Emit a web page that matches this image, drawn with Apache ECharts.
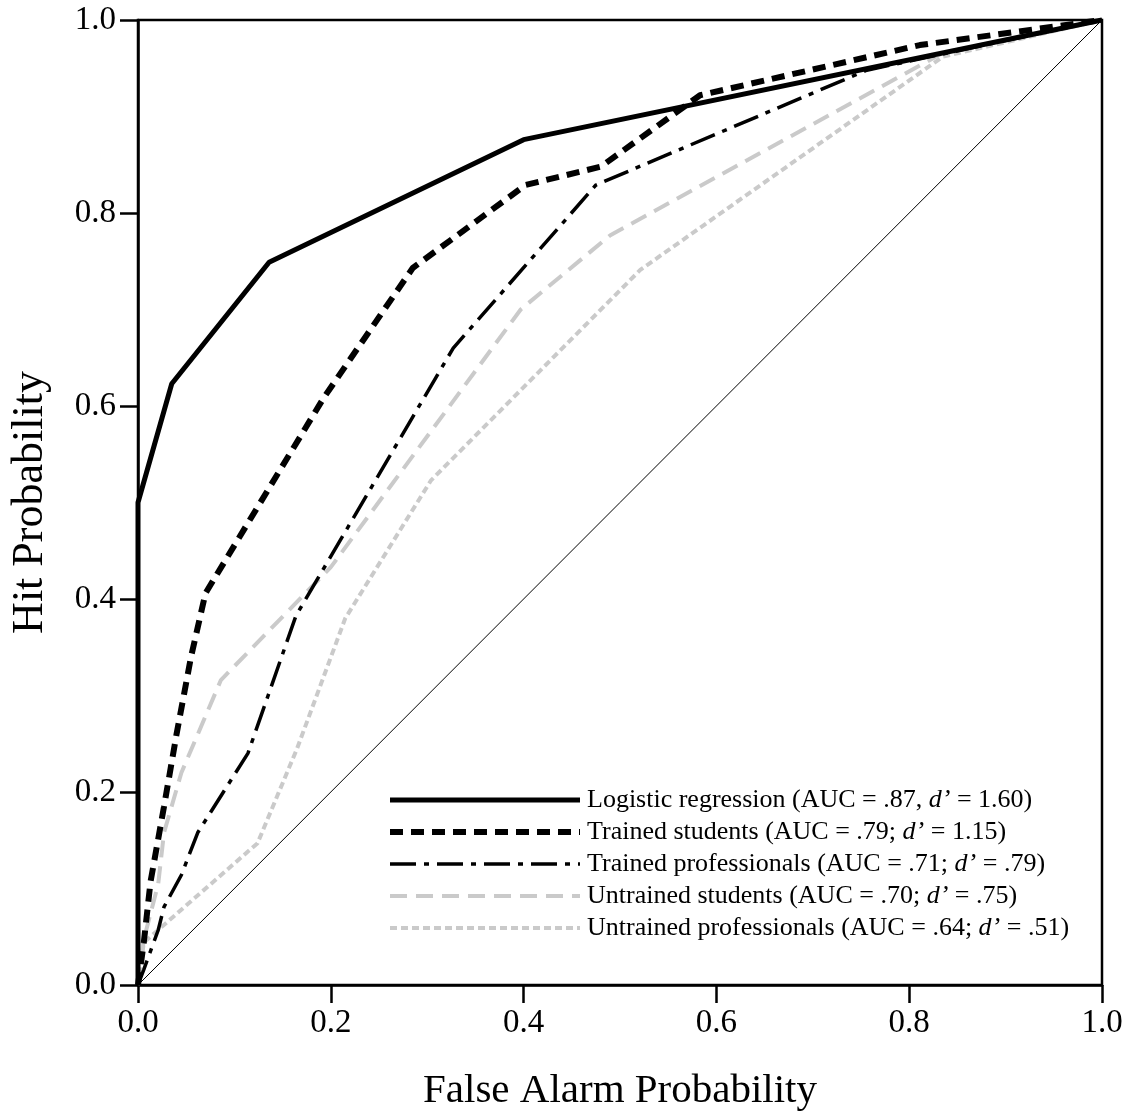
<!DOCTYPE html>
<html>
<head>
<meta charset="utf-8">
<script src="https://cdn.jsdelivr.net/npm/echarts@6/dist/echarts.min.js"></script>
<style>
  html, body { margin: 0; padding: 0; background: #fff; }
  #chart { width: 1133px; height: 1120px; }
</style>
</head>
<body>
<div id="chart"></div>
<script>
// ROC curves: [false alarm, hit]
const logisticPoints = [[0, 0], [0, 0.5], [0.035, 0.623], [0.136, 0.749], [0.4, 0.876], [1, 1]];
const trainedStudentsPoints = [[0, 0], [0.006, 0.044], [0.013, 0.107], [0.027, 0.185], [0.04, 0.26], [0.055, 0.34], [0.07, 0.406], [0.193, 0.609], [0.285, 0.743], [0.402, 0.829], [0.48, 0.848], [0.583, 0.922], [0.811, 0.974], [1, 1]];
const trainedProfPoints = [[0, 0], [0.006, 0.016], [0.021, 0.057], [0.027, 0.081], [0.045, 0.114], [0.062, 0.158], [0.114, 0.24], [0.164, 0.383], [0.327, 0.66], [0.475, 0.829], [0.756, 0.948], [1, 1]];
const untrainedStudentsPoints = [[0, 0], [0.006, 0.047], [0.021, 0.105], [0.027, 0.158], [0.045, 0.22], [0.086, 0.316], [0.2, 0.433], [0.397, 0.7], [0.49, 0.777], [0.835, 0.966], [1, 1]];
const untrainedProfPoints = [[0, 0], [0.006, 0.044], [0.124, 0.147], [0.165, 0.245], [0.215, 0.38], [0.304, 0.523], [0.521, 0.741], [0.835, 0.962], [1, 1]];
const chancePoints = [[0, 0], [1, 1]];

const seriesNames = ['Logistic regression', 'Trained students', 'Trained professionals', 'Untrained students', 'Untrained professionals'];
const aucValues = ['.87', '.79', '.71', '.70', '.64'];
const dPrimeValues = ['1.60', '1.15', '.79', '.75', '.51'];
const axisTicks = [0, 0.2, 0.4, 0.6, 0.8, 1.0];

const FONT = '"Liberation Serif", "DejaVu Serif", serif';
const GRAY = '#cacaca';

// line look per series, same order as seriesNames
const lineLooks = [
  { color: '#000', width: 5, type: 'solid' },
  { color: '#000', width: 6, type: [13, 8] },
  { color: '#000', width: 3.5, type: [26, 8, 5, 8] },
  { color: GRAY, width: 4, type: [17, 9] },
  { color: GRAY, width: 4, type: [7, 4] }
];

const chart = echarts.init(document.getElementById('chart'));

function legendText(name) {
  const i = seriesNames.indexOf(name);
  const sep = i === 0 ? ',' : ';';
  return name + ' (AUC = ' + aucValues[i] + sep + ' {i|d’} = ' + dPrimeValues[i] + ')';
}

function axisCommon(nameSize) {
  return {
    type: 'value',
    min: axisTicks[0],
    max: axisTicks[axisTicks.length - 1],
    interval: 0.2,
    splitLine: { show: false },
    axisLine: { show: true, lineStyle: { color: '#000', width: 2.5 } },
    axisTick: { show: true, length: 18, lineStyle: { color: '#000', width: 2.5 } },
    axisLabel: {
      color: '#000', fontFamily: FONT, fontSize: 33, margin: 22,
      formatter: v => v.toFixed(1)
    },
    nameLocation: 'middle',
    nameGap: 86,
    nameTextStyle: { color: '#000', fontFamily: FONT, fontSize: nameSize }
  };
}

function makeSeries(i, data) {
  return {
    name: seriesNames[i], type: 'line', data: data,
    symbol: 'none', clip: false,
    itemStyle: { color: lineLooks[i].color },
    lineStyle: lineLooks[i]
  };
}

const option = {
  backgroundColor: '#fff',
  animation: false,
  grid: {
    left: 137, right: 31, top: 20, bottom: 135,
    show: true, borderColor: '#000', borderWidth: 2.5
  },
  xAxis: Object.assign(axisCommon(41), { name: 'False Alarm Probability' }),
  yAxis: Object.assign(axisCommon(44), { name: 'Hit Probability' }),
  legend: {
    orient: 'vertical',
    left: 382,
    top: 782,
    itemWidth: 190,
    itemHeight: 22,
    itemGap: 6,
    itemStyle: { opacity: 0 },
    data: seriesNames.map((n, i) => ({
      name: n,
      lineStyle: { width: lineLooks[i].width, type: lineLooks[i].type, color: lineLooks[i].color }
    })),
    formatter: legendText,
    textStyle: {
      color: '#000', fontFamily: FONT, fontSize: 26, padding: [0, 0, 0, 2],
      rich: { i: { fontFamily: FONT, fontSize: 26, fontStyle: 'italic', color: '#000' } }
    }
  },
  series: [
    {
      name: 'chance', type: 'line', data: chancePoints, symbol: 'none', silent: true,
      lineStyle: { color: '#000', width: 1 }
    },
    makeSeries(4, untrainedProfPoints),
    makeSeries(3, untrainedStudentsPoints),
    makeSeries(2, trainedProfPoints),
    makeSeries(1, trainedStudentsPoints),
    makeSeries(0, logisticPoints)
  ]
};

chart.setOption(option);
</script>
</body>
</html>
